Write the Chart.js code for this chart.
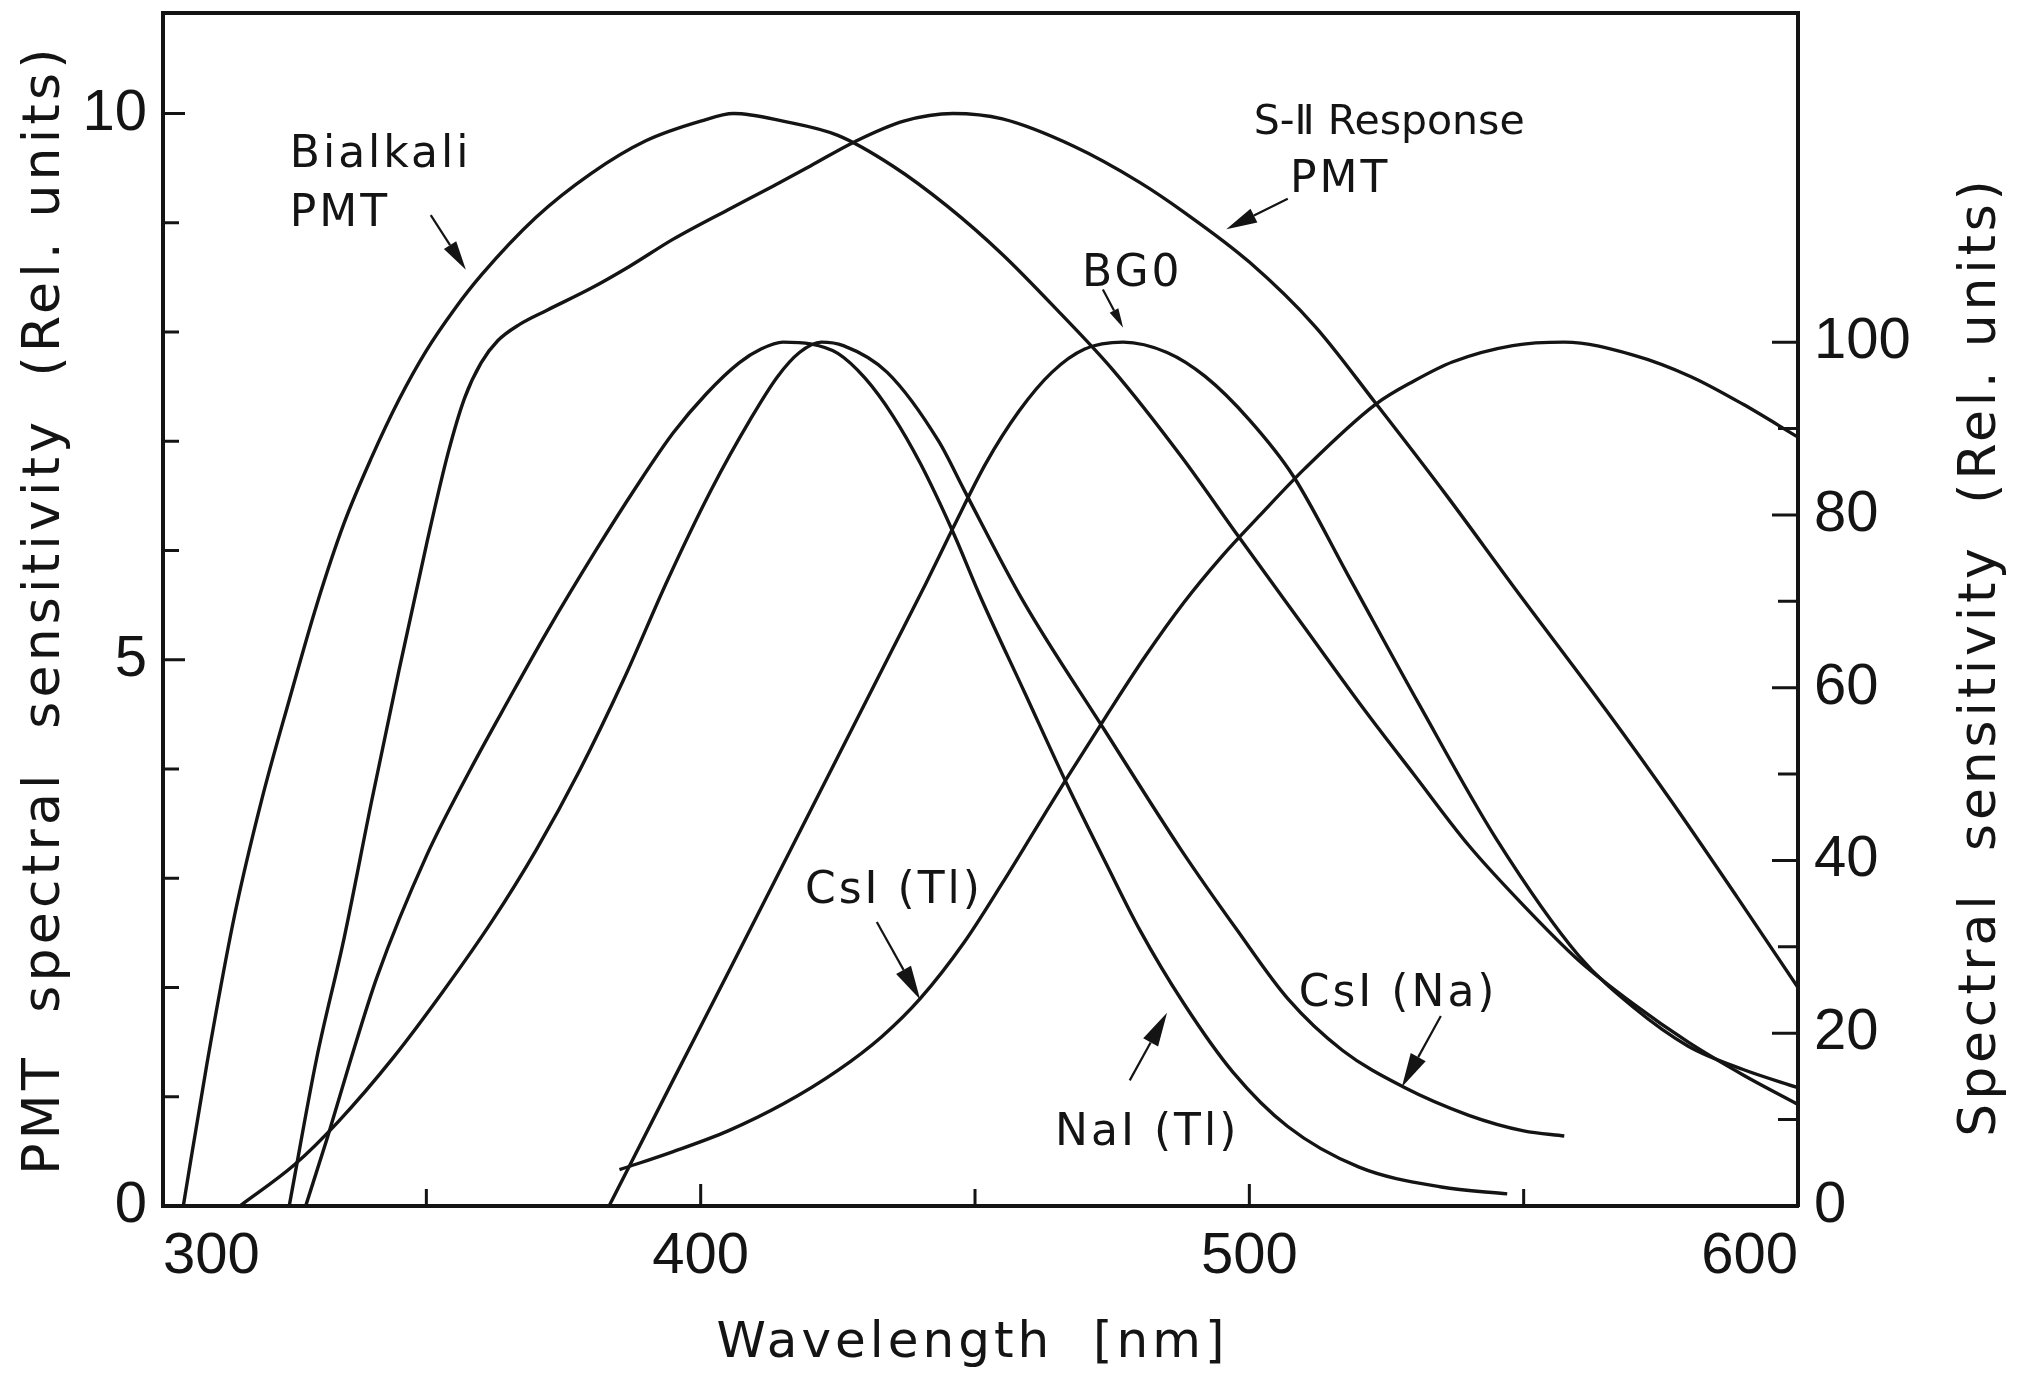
<!DOCTYPE html>
<html>
<head>
<meta charset="utf-8">
<script src="https://cdn.jsdelivr.net/npm/chart.js@4.4.0/dist/chart.umd.min.js"></script>
<style>
  html, body { margin: 0; padding: 0; background: #fff; }
  #wrap { width: 2017px; height: 1376px; }
</style>
</head>
<body>
<div id="wrap"><canvas id="spectra" width="2017" height="1376"></canvas></div>
<script>
// wavelength axis [nm]
const xStart = 302;
const xEnd = 600;
const xLabelTicks = [300, 400, 500, 600];
const xMinorTicks = [350, 400, 450, 500, 550];

// left axis: PMT spectral sensitivity
const pmtMax = 10.92;
const pmtLabelTicks = [0, 5, 10];
const pmtMinorTicks = [1, 2, 3, 4, 6, 7, 8, 9];

// right axis: scintillator emission
const scintMax = 138.1;
const scintLabelTicks = [0, 20, 40, 60, 80, 100];
const scintMinorTicks = [10, 30, 50, 70, 90];

// PMT curves (left axis)
const bialkaliNm  = [305.7, 310, 315, 320, 325, 330, 335, 340, 345, 350, 355, 360, 370, 380, 390, 400, 406, 415, 425, 435, 445, 455, 465, 475, 487.6, 498, 510, 521, 530, 540, 550, 560, 570, 580, 590, 600];
const bialkaliVal = [0, 1.3, 2.65, 3.72, 4.63, 5.5, 6.25, 6.85, 7.38, 7.83, 8.2, 8.52, 9.05, 9.45, 9.75, 9.93, 10.0, 9.93, 9.8, 9.52, 9.15, 8.71, 8.2, 7.66, 6.86, 6.13, 5.3, 4.54, 3.95, 3.3, 2.75, 2.25, 1.85, 1.5, 1.2, 0.93];

const s11Nm  = [325, 330, 335, 340, 345, 350, 354, 357, 360, 363, 367, 372, 380, 387, 395, 405, 413, 420, 428, 437, 446, 455, 468, 480, 488, 500, 512, 523, 536, 548, 565, 577, 589, 600];
const s11Val = [0, 1.35, 2.45, 3.7, 4.9, 6.05, 6.9, 7.4, 7.72, 7.92, 8.07, 8.2, 8.4, 8.6, 8.85, 9.12, 9.33, 9.52, 9.74, 9.93, 10.0, 9.95, 9.7, 9.37, 9.1, 8.64, 8.05, 7.35, 6.5, 5.68, 4.54, 3.7, 2.82, 2.0];

// scintillator curves (right axis)
const naiNm  = [328, 332, 336, 341, 350, 358, 365, 372, 381, 388, 395, 401, 407, 411, 415, 420, 425, 430, 435, 440, 446, 451, 459, 467, 474, 480, 488, 497, 507, 520, 535, 547];
const naiVal = [0, 8, 16.5, 26.5, 40.5, 50.5, 58.6, 66.5, 76, 83, 89.5, 94, 97.6, 99.2, 100, 99.8, 98.7, 95.8, 91.5, 86, 78, 70.5, 59.5, 48.5, 39.5, 32, 23.5, 15.5, 9.2, 4.5, 2.2, 1.4];

const csiNaNm  = [316, 326, 334, 344, 353, 362, 370, 378, 386, 394, 402, 409, 414, 418, 422, 426, 434, 443.4, 448, 458.7, 473.6, 487.6, 497.7, 507, 517, 528, 540, 550, 557.4];
const csiNaVal = [0, 4.8, 9.8, 17.2, 24.8, 33, 41.2, 50.5, 61, 72.5, 83, 91, 96, 98.8, 100, 99.6, 96.5, 88.5, 82.9, 70.1, 55.1, 41.2, 32, 24, 18, 13.8, 10.5, 8.7, 8.1];

const bgoNm  = [383.3, 395, 405, 415, 425, 435, 441, 446, 452, 458, 464, 470, 477, 485, 492, 500, 508, 518, 531, 545, 560, 570, 580, 590, 600];
const bgoVal = [0, 14.6, 27, 39.5, 52, 64.5, 72, 78.5, 86, 92, 96.5, 99.2, 100, 98.8, 96, 91, 84.5, 73, 58, 42.5, 29, 23, 18.5, 15.8, 13.7];

const csiTlNm  = [385.2, 395, 405, 415, 425, 433, 440, 448, 455, 461, 467, 474, 481, 488, 495, 502, 510, 523, 530, 537, 548, 557.4, 570, 580.5, 590, 600];
const csiTlVal = [4.2, 6.3, 8.7, 11.8, 15.7, 19.6, 24, 30.5, 37.4, 43.6, 49.8, 56.8, 63.6, 69.8, 75.2, 80, 85.3, 92.8, 95.5, 97.7, 99.6, 100, 98.5, 96, 92.8, 89];

const ink = '#141414';
const textFont = '"DejaVu Sans", "Liberation Sans", sans-serif';

// labels and arrows, placed in data units (nm, left-axis value)
const curveLabels = [
    { text: 'Bialkali', nm: 325.1, val: 9.51, size: 44, spacing: 3 },
    { text: 'PMT', nm: 325.1, val: 8.97, size: 44, spacing: 3 },
    { text: 'S-Ⅱ Response', nm: 500.8, val: 9.81, size: 41, spacing: 0 },
    { text: 'PMT', nm: 507.4, val: 9.28, size: 44, spacing: 3 },
    { text: 'BG0', nm: 469.5, val: 8.42, size: 44, spacing: 3 },
    { text: 'CsI (Tl)', nm: 419.0, val: 2.77, size: 44, spacing: 3 },
    { text: 'NaI (Tl)', nm: 464.6, val: 0.56, size: 44, spacing: 3 },
    { text: 'CsI (Na)', nm: 509.0, val: 1.83, size: 44, spacing: 3 }
];
const curveArrows = [
    [350.8, 9.07, 357.2, 8.57],
    [507.0, 9.22, 495.8, 8.94],
    [473.3, 8.39, 477.0, 8.04],
    [432.1, 2.60, 440.0, 1.89],
    [478.2, 1.15, 485.0, 1.77],
    [534.9, 1.74, 527.8, 1.09]
];

function series(nm, vals, axisId) {
    return {
        data: nm.map((x, i) => ({ x, y: vals[i] })),
        yAxisID: axisId,
        borderColor: ink,
        borderWidth: 3.4,
        pointRadius: 0,
        fill: false,
        cubicInterpolationMode: 'monotone'
    };
}

function drawArrow(ctx, x0, y0, x1, y1, head) {
    const ang = Math.atan2(y1 - y0, x1 - x0);
    const half = head * 0.25;
    const bx = x1 - head * Math.cos(ang);
    const by = y1 - head * Math.sin(ang);
    ctx.beginPath();
    ctx.moveTo(x0, y0);
    ctx.lineTo(bx, by);
    ctx.stroke();
    ctx.beginPath();
    ctx.moveTo(x1, y1);
    ctx.lineTo(bx + half * Math.sin(ang), by - half * Math.cos(ang));
    ctx.lineTo(bx - half * Math.sin(ang), by + half * Math.cos(ang));
    ctx.closePath();
    ctx.fill();
}

function spacedText(ctx, text, x, y, size, spacing, rotate) {
    ctx.save();
    ctx.translate(x, y);
    if (rotate) ctx.rotate(rotate);
    ctx.font = size + 'px ' + textFont;
    ctx.letterSpacing = spacing + 'px';
    ctx.fillText(text, 0, 0);
    ctx.restore();
}

const inkPlugin = {
    id: 'ink',
    afterDraw(chart) {
        const { ctx, chartArea: area, scales } = chart;
        const { x, y, y2 } = scales;
        ctx.save();
        ctx.strokeStyle = ink;
        ctx.fillStyle = ink;

        // top frame line
        ctx.lineWidth = 4;
        ctx.beginPath();
        ctx.moveTo(area.left, area.top);
        ctx.lineTo(area.right, area.top);
        ctx.stroke();

        // inward tick marks
        ctx.lineWidth = 3;
        ctx.beginPath();
        xMinorTicks.forEach(v => {
            const px = x.getPixelForValue(v);
            const len = xLabelTicks.includes(v) ? 22 : 17;
            ctx.moveTo(px, area.bottom);
            ctx.lineTo(px, area.bottom - len);
        });
        pmtLabelTicks.concat(pmtMinorTicks).forEach(v => {
            if (v === 0) return;
            const py = y.getPixelForValue(v);
            const len = pmtLabelTicks.includes(v) ? 22 : 16;
            ctx.moveTo(area.left, py);
            ctx.lineTo(area.left + len, py);
        });
        scintLabelTicks.concat(scintMinorTicks).forEach(v => {
            if (v === 0) return;
            const py = y2.getPixelForValue(v);
            const len = scintLabelTicks.includes(v) ? 26 : 20;
            ctx.moveTo(area.right, py);
            ctx.lineTo(area.right - len, py);
        });
        ctx.stroke();

        // curve labels and arrows
        ctx.textAlign = 'left';
        ctx.textBaseline = 'alphabetic';
        curveLabels.forEach(l => {
            spacedText(ctx, l.text, x.getPixelForValue(l.nm), y.getPixelForValue(l.val), l.size, l.spacing, 0);
        });
        ctx.lineWidth = 2.2;
        curveArrows.forEach(a => {
            const x0 = x.getPixelForValue(a[0]), y0 = y.getPixelForValue(a[1]);
            const x1 = x.getPixelForValue(a[2]), y1 = y.getPixelForValue(a[3]);
            const len = Math.hypot(x1 - x0, y1 - y0);
            drawArrow(ctx, x0, y0, x1, y1, Math.min(34, len * 0.45));
        });

        // axis titles
        ctx.textAlign = 'center';
        ctx.textBaseline = 'middle';
        spacedText(ctx, 'Wavelength  [nm]', (area.left + area.right) / 2 - 8, area.bottom + 138, 50, 4, 0);
        spacedText(ctx, 'PMT  spectral  sensitivity  (Rel. units)', 45, (area.top + area.bottom) / 2, 52, 4.2, -Math.PI / 2);
        spacedText(ctx, 'Spectral  sensitivity  (Rel. units)', chart.width - 36, (area.top + area.bottom) / 2 + 47, 52, 3.8, -Math.PI / 2);
        ctx.restore();
    }
};

const tickFont = { family: '"Liberation Sans", "DejaVu Sans", sans-serif', size: 58 };

new Chart(document.getElementById('spectra').getContext('2d'), {
    type: 'line',
    data: {
        datasets: [
            series(bialkaliNm, bialkaliVal, 'y'),
            series(s11Nm, s11Val, 'y'),
            series(naiNm, naiVal, 'y2'),
            series(csiNaNm, csiNaVal, 'y2'),
            series(bgoNm, bgoVal, 'y2'),
            series(csiTlNm, csiTlVal, 'y2')
        ]
    },
    options: {
        responsive: false,
        animation: false,
        devicePixelRatio: 1,
        layout: { padding: { top: 13, left: 0, right: 0, bottom: 0 } },
        plugins: {
            legend: { display: false },
            tooltip: { enabled: false }
        },
        scales: {
            x: {
                type: 'linear',
                min: xStart,
                max: xEnd,
                afterBuildTicks: axis => {
                    axis.ticks = xLabelTicks.map(v => ({ value: Math.max(v, xStart) }));
                },
                afterFit: axis => {
                    axis.height = 170;
                    axis.paddingLeft = 0;
                    axis.paddingRight = 0;
                },
                grid: { display: false, drawTicks: false },
                border: { display: true, color: ink, width: 4 },
                ticks: {
                    color: ink,
                    font: tickFont,
                    padding: 16,
                    align: 'inner',
                    maxRotation: 0,
                    autoSkip: false,
                    callback: v => String(Math.round(v / 100) * 100)
                }
            },
            y: {
                position: 'left',
                min: 0,
                max: pmtMax,
                afterBuildTicks: axis => {
                    axis.ticks = pmtLabelTicks.map(v => ({ value: v }));
                },
                afterFit: axis => {
                    axis.width = 163;
                    axis.paddingTop = 0;
                    axis.paddingBottom = 0;
                },
                grid: { display: false, drawTicks: false },
                border: { display: true, color: ink, width: 4 },
                ticks: { color: ink, font: tickFont, padding: 16 }
            },
            y2: {
                position: 'right',
                min: 0,
                max: scintMax,
                afterBuildTicks: axis => {
                    axis.ticks = scintLabelTicks.map(v => ({ value: v }));
                },
                afterFit: axis => {
                    axis.width = 219;
                    axis.paddingTop = 0;
                    axis.paddingBottom = 0;
                },
                grid: { display: false, drawTicks: false },
                border: { display: true, color: ink, width: 4 },
                ticks: { color: ink, font: tickFont, padding: 16 }
            }
        }
    },
    plugins: [inkPlugin]
});
</script>
</body>
</html>
